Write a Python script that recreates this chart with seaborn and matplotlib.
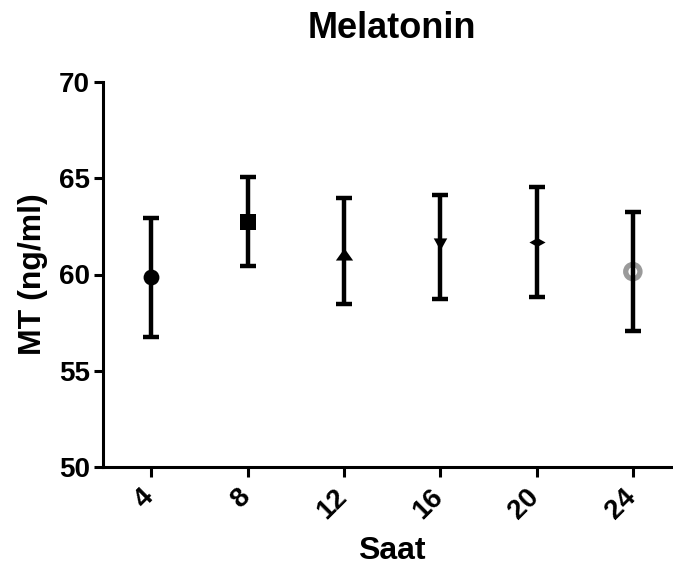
import numpy as np
import pandas as pd
import matplotlib
matplotlib.use("Agg")
import matplotlib.pyplot as plt
import matplotlib.transforms as mtransforms
import seaborn as sns

# ---- data ----
hours = [4, 8, 12, 16, 20, 24]
means = [59.86, 62.75, 61.08, 61.60, 61.69, 60.15]
upper = [62.93, 65.05, 63.96, 64.13, 64.53, 63.27]
lower = [56.76, 60.43, 58.49, 58.71, 58.83, 57.04]
y_ticks = [50, 55, 60, 65, 70]

title = "Melatonin"
x_label = "Saat"
y_label = "MT (ng/ml)"

df = pd.DataFrame({"Saat": hours, "MT": means, "lo": lower, "hi": upper})

sns.set_theme(style="ticks")
plt.rcParams["font.family"] = ["Liberation Sans", "DejaVu Sans"]
plt.rcParams["font.weight"] = "bold"
plt.rcParams["text.color"] = "black"
plt.rcParams["axes.labelcolor"] = "black"

fig = plt.figure(figsize=(6.73, 5.77), dpi=100)
ax = fig.add_axes([103 / 673, 1 - 467 / 577, 578 / 673, (467 - 82) / 577])

# error bars
yerr = np.array([df["MT"] - df["lo"], df["hi"] - df["MT"]])
ax.errorbar(df["Saat"], df["MT"], yerr=yerr, fmt="none", ecolor="black",
            elinewidth=3.2, capsize=5.8, capthick=3.2, zorder=2)

# markers
tri_up = [(0, 0.7), (-1, -0.7), (1, -0.7)]
tri_dn = [(0, -0.9), (-1, 0.9), (1, 0.9)]
diamond = [(-1, 0), (0, 0.55), (1, 0), (0, -0.55)]
marker_specs = [
    ("o", 130),
    ("s", 125),
    (tri_up, 155),
    (tri_dn, 95),
    (diamond, 135),
]
for i, (m, s) in enumerate(marker_specs):
    sns.scatterplot(x=[df["Saat"][i]], y=[df["MT"][i]], marker=m, s=s,
                    color="black", edgecolor="black", linewidth=0,
                    zorder=3, ax=ax, legend=False)
# open grey circle for the last point (bar drawn over it)
sns.scatterplot(x=[df["Saat"][5]], y=[df["MT"][5]], marker="o", s=105,
                facecolor="none", edgecolor="#9a9a9a", linewidth=3.8,
                zorder=1, ax=ax, legend=False)

ax.set_xlim(2, 26)
ax.set_ylim(50, 70)
ax.set_xticks(hours)
ax.set_xticklabels([str(h) for h in hours], rotation=45, ha="right")
ax.set_yticks(y_ticks)
ax.set_yticklabels([str(v) for v in y_ticks])

for side in ["top", "right"]:
    ax.spines[side].set_visible(False)
for side in ["left", "bottom"]:
    ax.spines[side].set_linewidth(2.2)
    ax.spines[side].set_color("black")

ax.tick_params(axis="y", length=6.5, width=2.2, pad=3, labelsize=20, colors="black")
ax.tick_params(axis="x", length=7.5, width=2.2, pad=5, labelsize=20, colors="black")
for lab in ax.get_xticklabels() + ax.get_yticklabels():
    lab.set_fontweight("bold")

# shift rotated x tick labels slightly right (after tick_params)
offset = mtransforms.ScaledTranslation(8 / 100, 0, fig.dpi_scale_trans)
for lab in ax.get_xticklabels():
    lab.set_transform(lab.get_transform() + offset)

ax.set_title(title, fontsize=26, fontweight="bold", pad=32, color="black")
ax.set_xlabel(x_label, fontsize=23, fontweight="bold", labelpad=8, color="black")
ax.set_ylabel(y_label, fontsize=23, fontweight="bold", labelpad=8, color="black")

fig.savefig("out.png", dpi=100, facecolor="white")
